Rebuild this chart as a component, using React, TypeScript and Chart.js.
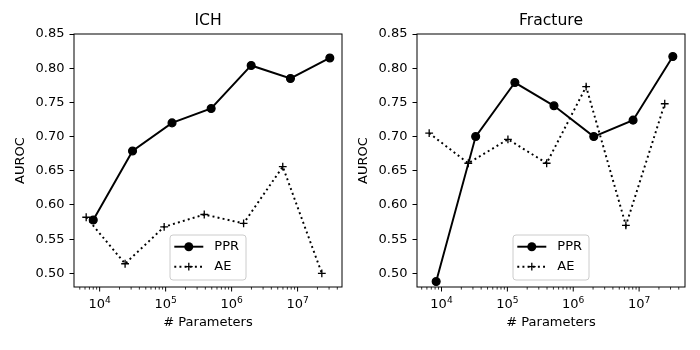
import React, { useEffect, useRef } from 'react';
import { Chart, registerables } from 'chart.js';

Chart.register(...registerables);

// ---- Data ----
const panelTitles = ['ICH', 'Fracture'];
const seriesNames = ['PPR', 'AE'];

const ichPPRParams = [8.0e3, 3.15e4, 1.25e5, 4.9e5, 1.98e6, 7.8e6, 3.08e7];
const ichAEParams = [6.25e3, 2.43e4, 9.5e4, 3.85e5, 1.52e6, 5.96e6, 2.33e7];
const ichPPR = [0.578, 0.679, 0.720, 0.741, 0.804, 0.785, 0.815];
const ichAE = [0.582, 0.514, 0.568, 0.586, 0.573, 0.656, 0.500];

const fracPPRParams = [8.3e3, 3.3e4, 1.3e5, 5.1e5, 2.05e6, 8.1e6, 3.25e7];
const fracAEParams = [6.5e3, 2.55e4, 1.02e5, 3.95e5, 1.57e6, 6.3e6, 2.45e7];
const fracPPR = [0.488, 0.700, 0.779, 0.745, 0.700, 0.724, 0.817];
const fracAE = [0.705, 0.661, 0.696, 0.661, 0.773, 0.570, 0.748];

const yTickValues = [0.5, 0.55, 0.6, 0.65, 0.7, 0.75, 0.8, 0.85];
const yLimits = [0.48, 0.85];
const xMajorTicks = [1e4, 1e5, 1e6, 1e7];
const xMinorMultipliers = [2, 3, 4, 5, 6, 7, 8, 9];
const xAxisTitle = '# Parameters';
const yAxisTitle = 'AUROC';

const FONT = "'DejaVu Sans', sans-serif";
const BASE = 13;

type Panel = {
  title: string;
  pprX: number[]; pprY: number[];
  aeX: number[]; aeY: number[];
  yWidth: number; padRight: number; yTitlePad: number;
};

const panels: Panel[] = [
  { title: panelTitles[0], pprX: ichPPRParams, pprY: ichPPR, aeX: ichAEParams, aeY: ichAE, yWidth: 74, padRight: 8, yTitlePad: 13.2 },
  { title: panelTitles[1], pprX: fracPPRParams, pprY: fracPPR, aeX: fracAEParams, aeY: fracAE, yWidth: 67, padRight: 15, yTitlePad: 6.2 },
];

const toPts = (xs: number[], ys: number[]) => xs.map((x, i) => ({ x, y: ys[i] }));

function logRange(all: number[]) {
  const lmin = Math.log10(Math.min(...all));
  const lmax = Math.log10(Math.max(...all));
  const pad = 0.05 * (lmax - lmin);
  return [Math.pow(10, lmin - pad), Math.pow(10, lmax + pad)];
}

const decorPlugin = (title: string) => ({
  id: 'decor',
  afterDraw(chart: any) {
    const { ctx, chartArea: a } = chart;
    const xs = chart.scales.x;
    ctx.save();
    // frame
    ctx.strokeStyle = '#000';
    ctx.lineWidth = 1;
    ctx.strokeRect(a.left, a.top, a.right - a.left, a.bottom - a.top);
    // x ticks
    const minV = xs.min, maxV = xs.max;
    const e0 = Math.floor(Math.log10(minV)), e1 = Math.ceil(Math.log10(maxV));
    for (let e = e0; e <= e1; e++) {
      const base = Math.pow(10, e);
      if (base >= minV && base <= maxV) {
        const px = xs.getPixelForValue(base);
        ctx.lineWidth = 1;
        ctx.beginPath(); ctx.moveTo(px, a.bottom); ctx.lineTo(px, a.bottom + 4.5); ctx.stroke();
      }
      for (const m of xMinorMultipliers) {
        const v = m * base;
        if (v < minV || v > maxV) continue;
        const px = xs.getPixelForValue(v);
        ctx.lineWidth = 0.8;
        ctx.beginPath(); ctx.moveTo(px, a.bottom); ctx.lineTo(px, a.bottom + 2.6); ctx.stroke();
      }
    }
    // x tick labels 10^n
    ctx.fillStyle = '#000';
    ctx.textBaseline = 'alphabetic';
    ctx.textAlign = 'left';
    for (const v of xMajorTicks) {
      if (v < minV || v > maxV) continue;
      const px = xs.getPixelForValue(v);
      const expo = String(Math.round(Math.log10(v)));
      ctx.font = `${BASE}px ${FONT}`;
      const w1 = ctx.measureText('10').width;
      ctx.font = `${BASE * 0.7}px ${FONT}`;
      const w2 = ctx.measureText(expo).width;
      const start = px - (w1 + w2) / 2;
      ctx.font = `${BASE}px ${FONT}`;
      ctx.fillText('10', start, a.bottom + 20.7);
      ctx.font = `${BASE * 0.7}px ${FONT}`;
      ctx.fillText(expo, start + w1, a.bottom + 16.3);
    }
    // title
    ctx.font = `${BASE * 1.2}px ${FONT}`;
    ctx.textAlign = 'center';
    ctx.textBaseline = 'middle';
    ctx.fillText(title, (a.left + a.right) / 2, 21);
    // legend
    const lw = 76, lh = 45;
    const lx = (a.left + a.right) / 2 - lw / 2;
    const ly = a.bottom - 7 - lh;
    ctx.beginPath();
    ctx.roundRect(lx, ly, lw, lh, 3);
    ctx.fillStyle = 'rgba(255,255,255,0.8)';
    ctx.fill();
    ctx.strokeStyle = '#cccccc';
    ctx.lineWidth = 1;
    ctx.stroke();
    const rows = [ly + 11.7, ly + 31.7];
    const sx0 = lx + 4.3, sx1 = lx + 33.3, sxm = (sx0 + sx1) / 2;
    ctx.strokeStyle = '#000';
    ctx.fillStyle = '#000';
    // PPR
    ctx.lineWidth = 1.95;
    ctx.setLineDash([]);
    ctx.beginPath(); ctx.moveTo(sx0, rows[0]); ctx.lineTo(sx1, rows[0]); ctx.stroke();
    ctx.beginPath(); ctx.arc(sxm, rows[0], 4.5, 0, Math.PI * 2); ctx.fill();
    // AE
    ctx.setLineDash([1.95, 3.2]);
    ctx.beginPath(); ctx.moveTo(sx0, rows[1]); ctx.lineTo(sx1, rows[1]); ctx.stroke();
    ctx.setLineDash([]);
    ctx.lineWidth = 1.3;
    ctx.beginPath();
    ctx.moveTo(sxm - 3.9, rows[1]); ctx.lineTo(sxm + 3.9, rows[1]);
    ctx.moveTo(sxm, rows[1] - 3.9); ctx.lineTo(sxm, rows[1] + 3.9);
    ctx.stroke();
    ctx.font = `${BASE}px ${FONT}`;
    ctx.textAlign = 'left';
    ctx.textBaseline = 'middle';
    ctx.fillText(seriesNames[0], lx + 44.3, rows[0]);
    ctx.fillText(seriesNames[1], lx + 44.3, rows[1]);
    ctx.restore();
  },
});

function PanelChart({ p }: { p: Panel }) {
  const ref = useRef<HTMLCanvasElement>(null);
  useEffect(() => {
    if (!ref.current) return;
    const [xmin, xmax] = logRange([...p.pprX, ...p.aeX]);
    const chart = new Chart(ref.current, {
      type: 'line',
      data: {
        datasets: [
          {
            label: seriesNames[0],
            data: toPts(p.pprX, p.pprY),
            borderColor: '#000', backgroundColor: '#000',
            borderWidth: 1.95,
            pointStyle: 'circle', pointRadius: 3.9, pointBorderWidth: 1.3,
            pointBackgroundColor: '#000', pointBorderColor: '#000',
            order: 1,
          },
          {
            label: seriesNames[1],
            data: toPts(p.aeX, p.aeY),
            borderColor: '#000', backgroundColor: '#000',
            borderWidth: 1.95, borderDash: [1.95, 3.2],
            pointStyle: 'cross', pointRadius: 3.9, pointBorderWidth: 1.3,
            pointBackgroundColor: '#000', pointBorderColor: '#000',
            order: 0,
          },
        ],
      },
      options: {
        responsive: false,
        animation: false,
        devicePixelRatio: 1,
        layout: { padding: { left: 0, right: p.padRight, top: 34, bottom: 0 } },
        plugins: { legend: { display: false }, tooltip: { enabled: false }, title: { display: false } },
        scales: {
          x: {
            type: 'logarithmic',
            min: xmin, max: xmax,
            afterBuildTicks: (s: any) => { s.ticks = xMajorTicks.map((v) => ({ value: v, major: true })); },
            afterFit: (s: any) => { s.height = 63; },
            ticks: { display: false },
            grid: { display: false, drawTicks: false },
            border: { display: false },
            title: {
              display: true, text: xAxisTitle, color: '#000',
              font: { family: FONT, size: BASE }, padding: { top: 0, bottom: 19.5 },
            },
          },
          y: {
            type: 'linear',
            min: yLimits[0], max: yLimits[1],
            afterBuildTicks: (s: any) => { s.ticks = yTickValues.map((v) => ({ value: v })); },
            afterFit: (s: any) => { s.width = p.yWidth; },
            ticks: {
              color: '#000', padding: 5,
              font: { family: FONT, size: BASE },
              callback: (v: any) => Number(v).toFixed(2),
            },
            grid: { drawOnChartArea: false, drawTicks: true, tickLength: 4.5, color: '#000', lineWidth: 1 },
            border: { display: false },
            title: {
              display: true, text: yAxisTitle, color: '#000',
              font: { family: FONT, size: BASE }, padding: { top: p.yTitlePad, bottom: 0 },
            },
          },
        },
      },
      plugins: [decorPlugin(p.title)],
    } as any);
    return () => chart.destroy();
  }, [p]);
  return <canvas ref={ref} width={350} height={350} style={{ width: 350, height: 350, display: 'block' }} />;
}

export default function App() {
  return (
    <div style={{ position: 'absolute', left: 0, top: 0, width: 700, height: 350, background: '#fff' }}>
      <div style={{ position: 'absolute', left: 0, top: 0 }}><PanelChart p={panels[0]} /></div>
      <div style={{ position: 'absolute', left: 350, top: 0 }}><PanelChart p={panels[1]} /></div>
    </div>
  );
}
